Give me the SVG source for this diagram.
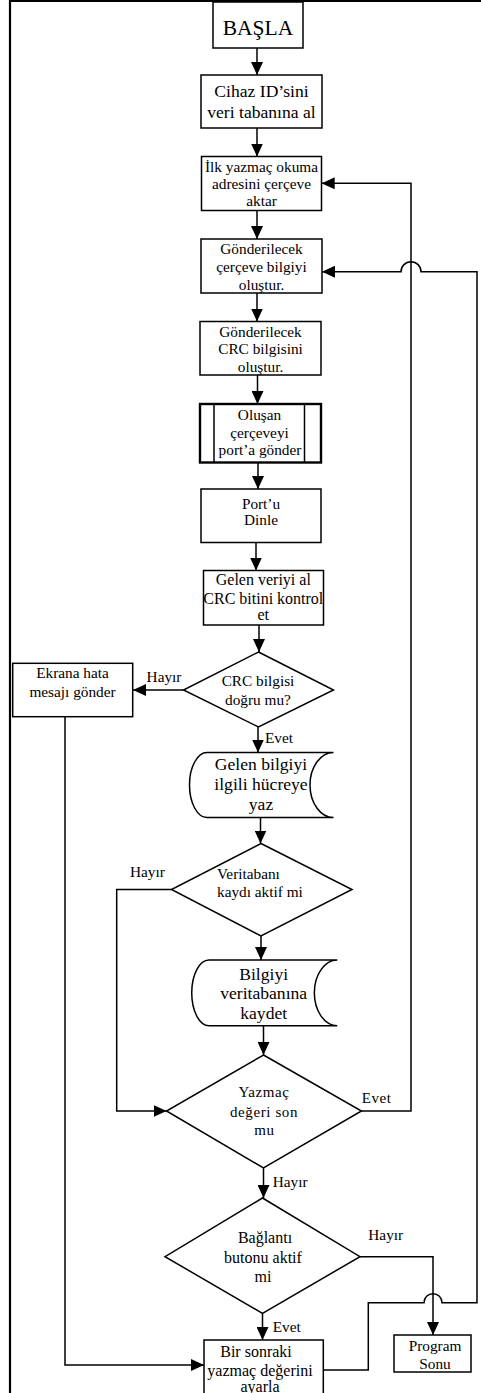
<svg xmlns="http://www.w3.org/2000/svg" width="481" height="1393" viewBox="0 0 481 1393">
<style>
.b{fill:#fff;stroke:#000;stroke-width:1.5}
.c{fill:none;stroke:#000;stroke-width:1.5}
text{font-family:"Liberation Serif","Times New Roman",serif;fill:#000;text-anchor:middle}
.s15{font-size:15.3px}
.s16{font-size:16px}
.s18{font-size:17.6px}
.ls{font-size:15px;letter-spacing:0.6px}
.l{text-anchor:start}
</style>
<defs>
<marker id="ah" markerWidth="13" markerHeight="12" refX="13" refY="6" orient="auto" markerUnits="userSpaceOnUse"><path d="M0,0 L13,6 L0,12 z" fill="#000"/></marker>
</defs>
<rect width="481" height="1393" fill="#fff"/>
<g id="frame"><path d="M10,1393 V1 H481" fill="none" stroke="#000" stroke-width="2.2"/></g>

<g id="connectors">
<path class="c" d="M257,48 V75" marker-end="url(#ah)"/>
<path class="c" d="M257,128 V156.5" marker-end="url(#ah)"/>
<path class="c" d="M257,210.5 V239" marker-end="url(#ah)"/>
<path class="c" d="M257,293 V321.5" marker-end="url(#ah)"/>
<path class="c" d="M257.5,375 V404" marker-end="url(#ah)"/>
<path class="c" d="M258,462.5 V489" marker-end="url(#ah)"/>
<path class="c" d="M256,542.5 V570.5" marker-end="url(#ah)"/>
<path class="c" d="M259,625 V652" marker-end="url(#ah)"/>
<path class="c" d="M183.5,690 H133" marker-end="url(#ah)"/>
<path class="c" d="M65,716.7 V1365 H204" marker-end="url(#ah)"/>
<path class="c" d="M258,727 V752.5" marker-end="url(#ah)"/>
<path class="c" d="M260.5,817.5 V843.5" marker-end="url(#ah)"/>
<path class="c" d="M171.5,889.5 H116.7 V1111 H166.5" marker-end="url(#ah)"/>
<path class="c" d="M261,936 V960" marker-end="url(#ah)"/>
<path class="c" d="M263.5,1025.7 V1055" marker-end="url(#ah)"/>
<path class="c" d="M361.5,1111 H411 V183.3 H321.7" marker-end="url(#ah)"/>
<path class="c" d="M263.5,1168 V1198" marker-end="url(#ah)"/>
<path class="c" d="M360,1256.7 H433 V1335" marker-end="url(#ah)"/>
<path class="c" d="M262.5,1313.3 V1340" marker-end="url(#ah)"/>
<path class="c" d="M323.3,1370 H368.3 V1302.7 H424 A9,9 0 0 1 442,1302.7 H477 V271.7 H421 A10,10 0 0 0 401,271.7 H322" marker-end="url(#ah)"/>
</g>

<g id="basla"><rect class="b" x="213" y="2" width="90" height="46"/><text x="258" y="35" style="font-size:21.5px">BAŞLA</text></g>

<g id="cihaz"><rect class="b" x="201" y="75" width="121" height="53"/>
<text class="s18" x="261.5" y="97">Cihaz ID’sini</text>
<text class="s18" x="261.5" y="118">veri tabanına al</text></g>

<g id="ilk"><rect class="b" x="201.5" y="156.5" width="120" height="54"/>
<text class="s15" x="261.5" y="172">İlk yazmaç okuma</text>
<text class="s15" x="261.5" y="189">adresini çerçeve</text>
<text class="s15" x="261.5" y="206">aktar</text></g>

<g id="gonder1"><rect class="b" x="201" y="239" width="121" height="54"/>
<text class="s15" x="261.5" y="254">Gönderilecek</text>
<text class="s15" x="261.5" y="272">çerçeve bilgiyi</text>
<text class="s15" x="261.5" y="289.5">oluştur.</text></g>

<g id="gonder2"><rect class="b" x="200" y="321.5" width="121" height="53.5"/>
<text class="s15" x="260.5" y="337">Gönderilecek</text>
<text class="s15" x="260.5" y="354">CRC bilgisini</text>
<text class="s15" x="260.5" y="371.5">oluştur.</text></g>

<g id="olusan"><rect x="200" y="404" width="121" height="58.5" fill="#fff" stroke="#000" stroke-width="2.4"/>
<path d="M214,404 V462.5 M304.5,404 V462.5" stroke="#000" stroke-width="1.5"/>
<text class="s15" x="259.5" y="420">Oluşan</text>
<text class="s15" x="259.5" y="437.5">çerçeveyi</text>
<text class="s15" x="260" y="455">port’a gönder</text></g>

<g id="port"><rect class="b" x="201" y="489" width="120" height="53.5"/>
<text class="s15" x="261" y="508.5">Port’u</text>
<text class="s15" x="261" y="525">Dinle</text></g>

<g id="gelenveri"><rect class="b" x="203.5" y="570.5" width="120" height="54.5"/>
<text class="s16" x="263.3" y="585">Gelen veriyi al</text>
<text class="s16" x="263.3" y="603.5">CRC bitini kontrol</text>
<text class="s16" x="263.3" y="620">et</text></g>

<g id="crc"><path class="b" d="M258.5,652 L333.5,690 L258.5,727 L183.5,690 Z"/>
<text class="s15" x="258" y="686">CRC bilgisi</text>
<text class="s15" x="258" y="705">doğru mu?</text>
<text class="s15" x="164" y="681.5">Hayır</text>
<text class="s15 l" x="265" y="742.5">Evet</text></g>

<g id="ekrana"><rect class="b" x="12.7" y="663.3" width="120" height="53.4"/>
<text class="s15" x="72.5" y="678">Ekrana hata</text>
<text class="s15" x="72.5" y="696.5">mesajı gönder</text></g>

<g id="gelenbilgi"><path class="b" d="M207,752.5 H333.5 A23.5,32.5 0 0 0 333.5,817.5 H207 A17.5,32.5 0 0 1 207,752.5 Z"/>
<text class="s18" x="261" y="770">Gelen bilgiyi</text>
<text class="s18" x="261" y="790">ilgili hücreye</text>
<text class="s18" x="261" y="810">yaz</text></g>

<g id="veritabani"><path class="b" d="M261,843.5 L352,889.5 L261,936 L171.5,889.5 Z"/>
<text class="s15 l" x="217" y="878.5">Veritabanı</text>
<text class="s15 l" x="217" y="897">kaydı aktif mi</text>
<text class="s15 l" x="130" y="877">Hayır</text></g>

<g id="bilgiyi"><path class="b" d="M209,960 H337.3 A23,32.85 0 0 0 337.3,1025.7 H209 A17.3,32.85 0 0 1 209,960 Z"/>
<text class="s18" x="263.7" y="980">Bilgiyi</text>
<text class="s18" x="263.7" y="999">veritabanına</text>
<text class="s18" x="263.7" y="1018.5">kaydet</text></g>

<g id="yazmac"><path class="b" d="M263.5,1055 L361.5,1111 L263.5,1168 L166.5,1111 Z"/>
<text class="ls" x="264" y="1096.7">Yazmaç</text>
<text class="ls" x="264" y="1116.7">değeri  son</text>
<text class="ls" x="264.5" y="1135">mu</text>
<text class="ls l" x="361.7" y="1103.3">Evet</text>
<text class="s15 l" x="272.7" y="1186.7">Hayır</text></g>

<g id="baglanti"><path class="b" d="M262.5,1198 L360,1256.7 L262.5,1313.3 L165,1256.7 Z"/>
<text class="s16" x="265" y="1243.3">Bağlantı</text>
<text class="s16" x="263" y="1263.3">butonu aktif</text>
<text class="s16" x="263" y="1281.7">mi</text>
<text class="s15 l" x="368.3" y="1240">Hayır</text>
<text class="s15 l" x="272.7" y="1331.7">Evet</text></g>

<g id="birsonraki"><rect class="b" x="204" y="1340" width="119.3" height="62"/>
<text class="s16" x="256" y="1356.7">Bir sonraki</text>
<text class="s16" x="260" y="1375.5">yazmaç değerini</text>
<text class="s16" x="260" y="1392">ayarla</text></g>

<g id="programsonu"><rect class="b" x="394" y="1335" width="77" height="37"/>
<text class="s15" x="435" y="1351">Program</text>
<text class="s15" x="435" y="1368.5">Sonu</text></g>
</svg>
